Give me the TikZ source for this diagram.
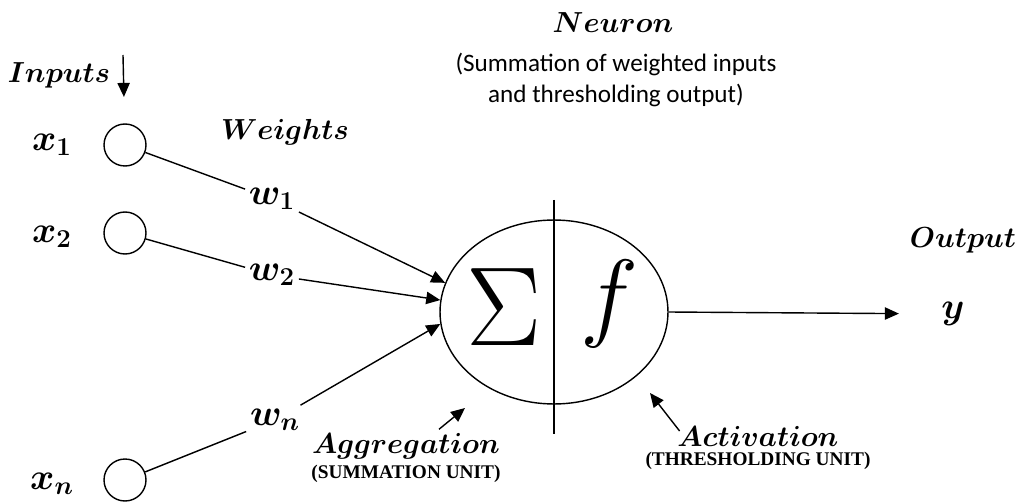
\documentclass[tikz,border=0pt]{standalone}
\usepackage{fix-cm}
\usepackage{amsmath}
\usepackage{fontspec}
\usepackage{tikz}
\usetikzlibrary{arrows.meta, positioning, calc, shapes.geometric}
\newfontfamily\calib{Carlito}
\newfontfamily\timesb{Liberation Serif}

\begin{document}
\begin{tikzpicture}[
  x=0.02cm, y=-0.02cm,
  inp/.style={circle, draw, line width=0.8pt, minimum size=0.84cm, inner sep=0pt},
  lbl/.style={font=\boldmath\fontsize{16.5}{20}\selectfont, inner sep=2pt},
  var/.style={font=\boldmath\fontsize{21}{24}\selectfont, inner sep=2pt},
  unit/.style={font=\timesb\bfseries\fontsize{11}{12}\selectfont, inner sep=1pt},
  neuron/.style={ellipse, draw, line width=0.8pt, minimum width=4.56cm,
                 minimum height=3.68cm, inner sep=0pt},
  wire/.style={line width=0.8pt},
  arrow/.style={-{Triangle[length=8pt, width=7pt]}, line width=0.8pt}
]
  \useasboundingbox (0,0) rectangle (1020,503);

  % inputs
  \node[inp] (in1) at (125,145) {};
  \node[inp] (in2) at (125,233) {};
  \node[inp] (inn) at (125,480) {};
  \node[var] (x1) at (52,145) {$x_1$};
  \node[var] (x2) at (52,237) {$x_2$};
  \node[var] (xn) at (52,484) {$x_n$};
  \node[lbl] (inlbl) at (59,75) {$Inputs$};
  \coordinate (intop) at (123,55);

  % weights
  \node[lbl] (wlbl) at (285,132) {$Weights$};
  \node[var] (w1) at (272,199) {$w_1$};
  \node[var] (w2) at (272,275) {$w_2$};
  \node[var] (wn) at (275,420) {$w_n$};

  % neuron
  \node[neuron] (neu) at (554,312) {};
  \coordinate (vtop) at (554,200);
  \coordinate (vbot) at (554,434);
  \node[font=\fontsize{64}{64}\selectfont] (sig) at (504,307) {$\Sigma$};
  \node[font=\fontsize{56}{56}\selectfont] (fn) at (609,304) {$f$};
  \node[lbl] (nlbl) at (613,23) {$Neuron$};
  \node[font=\calib\fontsize{14.3}{18}\selectfont, align=center] (ntxt) at (616,80)
    {(Summation of weighted inputs\\and thresholding output)};

  % output
  \node[var] (y) at (953,314) {$y$};
  \node[lbl] (olbl) at (963,240) {$Output$};

  % units
  \node[lbl] (agg) at (406,446) {$Aggregation$};
  \node[unit, below=0pt of agg] (aggu) {(SUMMATION UNIT)};
  \coordinate (aggtip) at (465,408);
  \node[lbl] (act) at (758,436) {$Activation$};
  \node[unit, below=0pt of act] (actu) {(THRESHOLDING UNIT)};
  \coordinate (acttip) at (650,393);

  \draw[arrow, shorten >=15pt] (intop) -- (in1);
  \draw[wire] (in1) -- (w1);
  \draw[wire] (in2) -- (w2);
  \draw[wire] (inn) -- (wn);
  \draw[arrow] (w1) -- (neu.165);
  \draw[arrow] (w2) -- (neu.174);
  \draw[arrow] (wn) -- (neu.186);
  \draw[wire] (vtop) -- (vbot);
  \draw[arrow, shorten >=22pt] (neu.east) -- (y);
  \draw[arrow] ([xshift=0.66cm]agg.north) -- (aggtip);
  \draw[arrow] ([xshift=0.12cm,yshift=0.1cm]act.west) -- (acttip);
\end{tikzpicture}
\end{document}
